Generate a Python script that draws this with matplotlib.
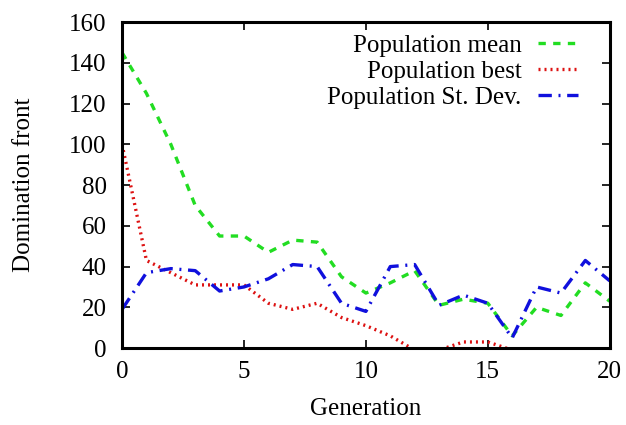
import matplotlib
matplotlib.use("Agg")
import matplotlib.pyplot as plt

generation = list(range(21))
pop_mean = [145, 125, 100, 70, 55, 55, 47, 53, 52, 35, 27, 32, 38, 21, 24, 22, 6, 20, 16, 32, 23]
pop_best = [100, 43, 37, 31, 31, 31, 22, 19, 22, 15, 11, 6, -1, -1, 3, 3, -1, -3, -3, -3, -3]
pop_std = [19, 37, 39, 38, 28, 30, 34, 41, 40, 22, 18, 40, 41, 21, 26, 22, 5, 30, 27, 43, 33]

plt.rcParams['font.family'] = ['Liberation Serif', 'DejaVu Serif']
fig = plt.figure(figsize=(6.26, 4.25), dpi=100)
ax = fig.add_axes([0.195, 0.181, 0.779, 0.767])

ax.plot(generation, pop_mean, color='#22dd22', lw=2.4, ls=(0, (2.2, 2.2)), label='Population mean')
ax.plot(generation, pop_best, color='#dd1111', lw=2.4, ls=(0, (0.6, 1.2)), label='Population best')
ax.plot(generation, pop_std, color='#1010dd', lw=2.4, ls=(0, (4, 2, 0.6, 2)), label='Population St. Dev.')

ax.set_xlim(0, 20)
ax.set_ylim(0, 160)
ax.set_xticks([0, 5, 10, 15, 20])
ax.set_yticks(range(0, 161, 20))
ax.tick_params(direction='in', length=6, width=1.2, top=True, right=True, labelsize=18)
ax.tick_params(axis='y', pad=11)
ax.tick_params(axis='x', pad=9)
for s in ax.spines.values():
    s.set_linewidth(2.2)
ax.set_xlabel('Generation', fontsize=18, labelpad=11)
ax.set_ylabel('Domination front', fontsize=18, labelpad=25)

leg = ax.legend(loc='upper right', bbox_to_anchor=(0.934, 0.962), frameon=False,
                markerfirst=False, fontsize=18, handlelength=1.6, labelspacing=0.14,
                borderaxespad=0.0, handletextpad=0.64, borderpad=0.0)

fig.savefig('out.png', dpi=100)
